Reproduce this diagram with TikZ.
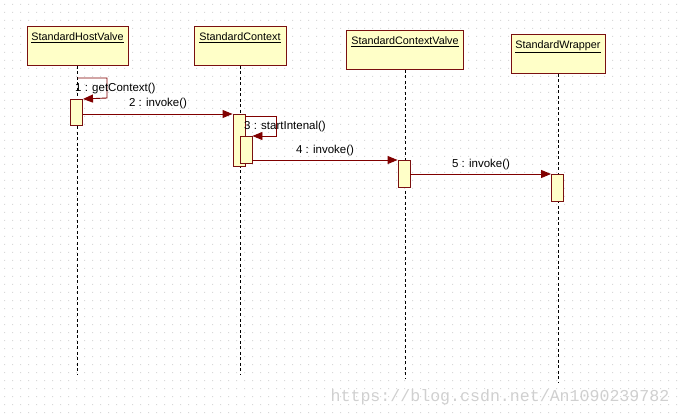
\documentclass[tikz,border=0pt]{standalone}
\usepackage{fontspec}
\setmainfont{Liberation Sans}
\newfontfamily\wmfont{Liberation Mono}
\usetikzlibrary{arrows.meta}
\definecolor{boxfill}{HTML}{FFFFC8}
\definecolor{boxline}{HTML}{7A1010}
\definecolor{msgline}{HTML}{800000}
\definecolor{griddot}{HTML}{D8D8D8}
\definecolor{wmgray}{HTML}{D0D0D0}
\tikzset{
  objbox/.style={draw=boxline, fill=boxfill, line width=0.9pt, inner sep=0pt,
    text height=14pt, text depth=25pt, font=\fontsize{10.8}{12}\selectfont},
  lifeline/.style={draw=black, line width=0.8pt, dash pattern=on 3pt off 2.5pt},
  actbox/.style={draw=boxline, fill=boxfill, line width=0.9pt, inner sep=0pt, minimum width=12pt},
  msg/.style={draw=msgline, line width=0.9pt, -{Triangle[length=10pt,width=8pt]}},
  msglabel/.style={inner sep=0pt, font=\fontsize{11.5}{13}\selectfont, anchor=center}
}
\begin{document}
\begin{tikzpicture}[x=1pt,y=-1pt]
\useasboundingbox (0,0) rectangle (681,417);
\fill[white] (0,0) rectangle (681,417);
% dotted grid
\fill[griddot] \foreach \i in {0,...,84} { \foreach \j in {0,...,51} { (4+8*\i,4+8*\j) rectangle +(1,1) } };
% watermark
\node[inner sep=0pt, text=wmgray, font=\wmfont\fontsize{16.6}{18}\selectfont] (wm) at (500,397) {https://blog.csdn.net/An1090239782};
% objects
\node[objbox, minimum width=101pt, anchor=north] (hv) at (77.5,26) {\underline{StandardHostValve}};
\node[objbox, minimum width=92pt, anchor=north] (sc) at (240,26) {\underline{StandardContext}};
\node[objbox, minimum width=117pt, anchor=north] (scv) at (405,30) {\underline{StandardContextValve}};
\node[objbox, minimum width=94pt, anchor=north] (sw) at (558,34) {\underline{StandardWrapper}};
% lifeline ends
\coordinate (hvend) at (77.5,375);
\coordinate (scend) at (240,375);
\coordinate (scvend) at (405,379);
\coordinate (swend) at (558,383);
\draw[lifeline] (hv.south) -- (hvend);
\draw[lifeline] (sc.south) -- (scend);
\draw[lifeline] (scv.south) -- (scvend);
\draw[lifeline] (sw.south) -- (swend);
% activations
\node[actbox, minimum height=26pt, anchor=north] (a1) at (76.5,99) {};
\node[actbox, minimum height=52pt, anchor=north] (a2) at (239,114) {};
\node[actbox, minimum height=27pt, anchor=north] (a3) at (246,136) {};
\node[actbox, minimum height=27pt, anchor=north] (a4) at (404,160) {};
\node[actbox, minimum height=27pt, anchor=north] (a5) at (557.5,174) {};
% messages
\coordinate (m1s) at (77.5,78);
\draw[msg] (m1s) -- (107,78) -- (107,98) -- (a1.north east);
\node[msglabel, anchor=west] (l1) at (75,89) {1 : getContext()};
\draw[msg] (a1.east |- a2.north) -- (a2.north west);
\node[msglabel] (l2) at (158,104) {2 : invoke()};
\draw[msg] (a2.east |- 0,116) -- (276,116) -- (276,136) -- (a3.north east);
\node[msglabel, anchor=west] (l3) at (244,127) {3 : startIntenal()};
\draw[msg] (a3.east |- a4.north) -- (a4.north west);
\node[msglabel] (l4) at (325,151) {4 : invoke()};
\draw[msg] (a4.east |- a5.north) -- (a5.north west);
\node[msglabel] (l5) at (481,165) {5 : invoke()};
\end{tikzpicture}
\end{document}
